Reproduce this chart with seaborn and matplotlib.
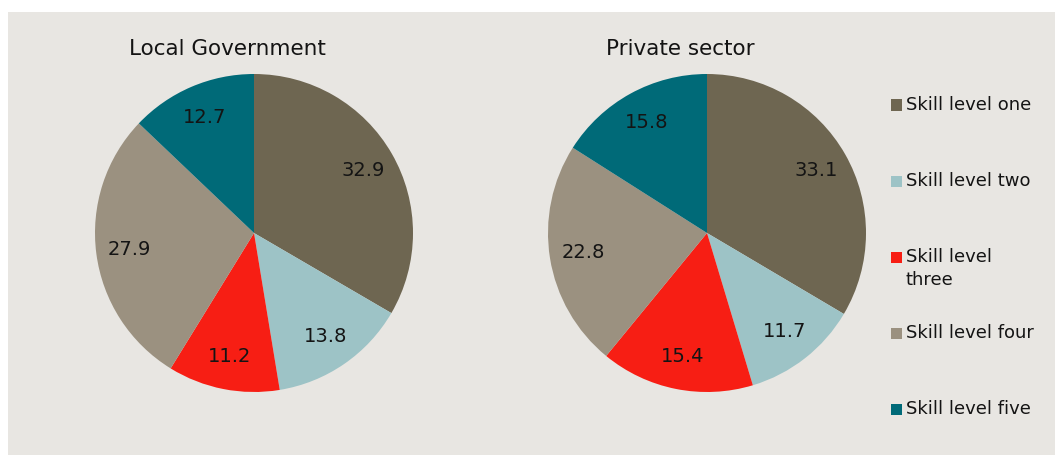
import matplotlib
matplotlib.use("Agg")
import matplotlib.pyplot as plt
from matplotlib.patches import Rectangle
import seaborn as sns

# Share of workforce by skill level (%)
skill_levels = ["Skill level one", "Skill level two", "Skill level three",
                "Skill level four", "Skill level five"]
legend_labels = ["Skill level one", "Skill level two", "Skill level\nthree",
                 "Skill level four", "Skill level five"]
local_government = [32.9, 13.8, 11.2, 27.9, 12.7]
private_sector = [33.1, 11.7, 15.4, 22.8, 15.8]
panel_titles = ["Local Government", "Private sector"]

sns.set_theme(style="white")
plt.rcParams["font.family"] = ["DejaVu Sans"]
palette = sns.color_palette(["#6e6651", "#9dc3c6", "#f71e14", "#9b9180", "#006a78"])

W, H = 1055, 455
fig = plt.figure(figsize=(W / 100, H / 100), dpi=100, facecolor="white")

# grey panel behind everything
fig.patches.append(Rectangle((8 / W, 0), 1 - 8 / W, 1 - 12 / H,
                             transform=fig.transFigure, facecolor="#e8e6e2",
                             edgecolor="none", zorder=-10))

text_color = "#141414"
radius_px = 159
centers = [(254, 233), (707, 233)]

for (cx, cy), values, title in zip(centers, [local_government, private_sector], panel_titles):
    ax = fig.add_axes([(cx - radius_px) / W, (H - cy - radius_px) / H,
                       2 * radius_px / W, 2 * radius_px / H])
    ax.set_zorder(1)
    ax.set_facecolor("none")
    wedges, texts = ax.pie(values, colors=palette, startangle=90, counterclock=False,
                           labels=[f"{v:.1f}" for v in values], labeldistance=0.79,
                           wedgeprops=dict(linewidth=0),
                           textprops=dict(fontsize=14, color=text_color))
    for t in texts:
        t.set_horizontalalignment("center")
        t.set_verticalalignment("center")
    ax.set_xlim(-1, 1)
    ax.set_ylim(-1, 1)
    ax.set_aspect("equal")
    ax.axis("off")
    fig.text((cx - 27) / W, 1 - 55 / H, title, ha="center", va="baseline",
             fontsize=15.5, color=text_color)

# legend: colour squares with labels
legend_x = 891
legend_y0 = 105
legend_step = 76.2
sq = 11
for i, (label, color) in enumerate(zip(legend_labels, palette)):
    yc = legend_y0 + i * legend_step
    fig.patches.append(Rectangle((legend_x / W, 1 - (yc + sq / 2) / H), sq / W, sq / H,
                                 transform=fig.transFigure, facecolor=color,
                                 edgecolor="none", zorder=2))
    fig.text((legend_x + 15) / W, 1 - (yc - 9.5) / H, label, ha="left", va="top",
             fontsize=13, color=text_color, linespacing=1.35)

fig.savefig("out.png", dpi=100, facecolor="white")
